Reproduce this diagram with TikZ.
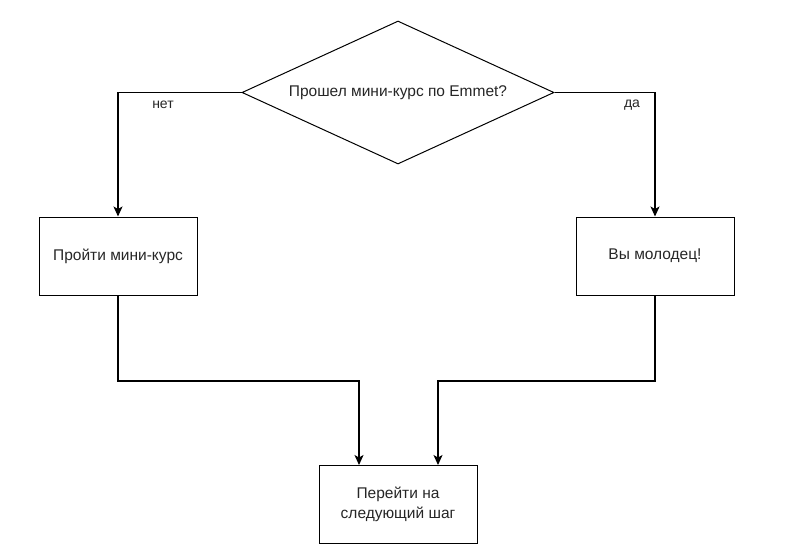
\documentclass[tikz,border=0pt]{standalone}
\usepackage{fontspec}
\setmainfont{Liberation Sans}
\usetikzlibrary{shapes.geometric,arrows.meta}
\begin{document}
\begin{tikzpicture}[x=1pt,y=-1pt,
  box/.style={draw,line width=1pt,minimum width=158pt,minimum height=78pt,inner sep=0pt,align=center,text=black!85,font=\fontsize{15.5}{19.5}\selectfont},
  dia/.style={draw,line width=1pt,diamond,aspect=2.18,minimum width=312pt,minimum height=143pt,inner sep=0pt,text=black!85,font=\fontsize{15.5}{19.5}\selectfont},
  conn/.style={line width=1.1pt,-{Stealth[length=10pt,width=9pt,inset=2.5pt]}},
  lbl/.style={text=black!85,font=\fontsize{14}{17}\selectfont}]
\useasboundingbox (0,0) rectangle (789,554);
\node[dia] (q) at (398,92.5) {Прошел мини-курс по Emmet?};
\node[box] (a) at (118,256) {Пройти мини-курс};
\node[box] (b) at (655,256) {Вы молодец!};
\node[box] (c) at (398,504.5) {Перейти на\\следующий шаг};
\coordinate (c1) at ([xshift=-39pt]c.north);
\coordinate (c2) at ([xshift=40pt]c.north);
\coordinate (j1) at (118,381);
\coordinate (j2) at (655,381);
\draw[conn] (q.west) -| (a.north);
\draw[conn] (q.east) -| (b.north);
\draw[conn] (a.south) -- (j1) -| (c1);
\draw[conn] (b.south) -- (j2) -| (c2);
\node[lbl] (n1) at (163,105) {нет};
\node[lbl] (n2) at (632,105) {да};
\end{tikzpicture}
\end{document}
